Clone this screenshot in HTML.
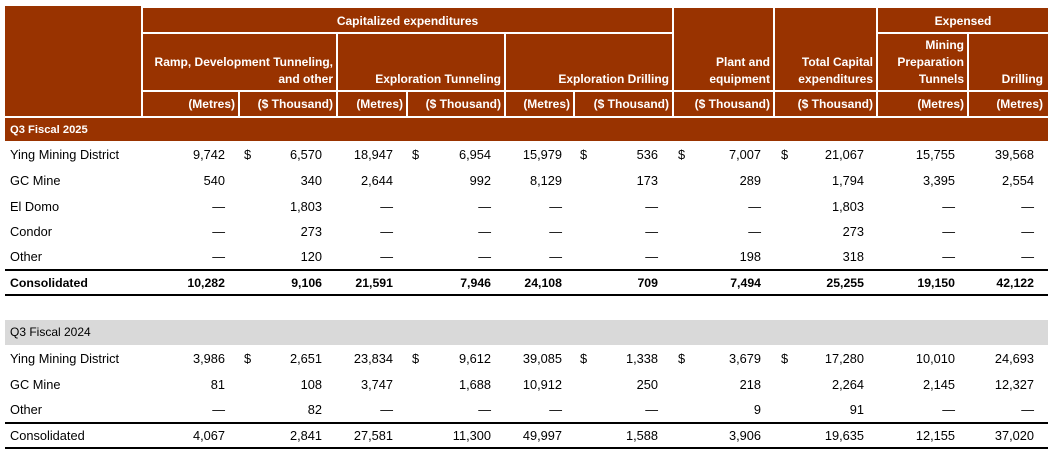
<!DOCTYPE html>
<html>
<head>
<meta charset="utf-8">
<style>
html,body{margin:0;padding:0;background:#fff;}
body{width:1054px;height:453px;position:relative;overflow:hidden;font-family:"Liberation Sans",Arial,sans-serif;color:#000;}
.h{position:absolute;background:#993300;color:#fff;font-weight:bold;font-size:12px;box-sizing:border-box;padding-right:3px;text-align:right;display:flex;flex-direction:column;justify-content:flex-end;line-height:17px;white-space:nowrap;}
.h2{padding-bottom:2px;}
.u{justify-content:center;line-height:24px;}
.t1{justify-content:flex-start;line-height:24px;padding-top:1px;text-align:center;padding-right:0;}
.band{position:absolute;left:5px;width:1043px;box-sizing:border-box;padding-left:5px;}
.row{position:absolute;left:0;width:1054px;height:18px;line-height:18px;font-size:12.8px;}
.row.b{font-weight:bold;font-size:12.3px;}
.lbl{position:absolute;left:10px;}
.n{position:absolute;width:100px;text-align:right;}
.s{position:absolute;}
.a{left:125px}.bb{left:222px}.c{left:293px}.d{left:391px}.e{left:462px}.f{left:558px}.g{left:661px}.hh{left:764px}.i{left:855px}.j{left:934px}
.s1{left:244px}.s2{left:412px}.s3{left:580px}.s4{left:678px}.s5{left:781px}
.rule{position:absolute;left:5px;width:1043px;height:2px;background:#000;}
</style>
</head>
<body>
<!-- header -->
<div class="h" style="left:5px;top:6px;width:136px;height:110px;"></div>
<div class="h t1" style="left:143px;top:8px;width:529px;height:24px;">Capitalized expenditures</div>
<div class="h h2" style="left:674px;top:8px;width:99px;height:82px;">Plant and<br>equipment</div>
<div class="h h2" style="left:775px;top:8px;width:101px;height:82px;">Total Capital<br>expenditures</div>
<div class="h t1" style="left:878px;top:8px;width:170px;height:24px;">Expensed</div>

<div class="h h2" style="left:143px;top:34px;width:193px;height:56px;">Ramp, Development Tunneling,<br>and other</div>
<div class="h h2" style="left:338px;top:34px;width:166px;height:56px;">Exploration Tunneling</div>
<div class="h h2" style="left:506px;top:34px;width:166px;height:56px;">Exploration Drilling</div>
<div class="h h2" style="left:878px;top:34px;width:89px;height:56px;">Mining<br>Preparation<br>Tunnels</div>
<div class="h h2" style="left:969px;top:34px;width:79px;height:56px;padding-right:5px;">Drilling</div>

<div class="h u" style="left:143px;top:92px;width:95px;height:24px;">(Metres)</div>
<div class="h u" style="left:240px;top:92px;width:96px;height:24px;">($ Thousand)</div>
<div class="h u" style="left:338px;top:92px;width:68px;height:24px;">(Metres)</div>
<div class="h u" style="left:408px;top:92px;width:96px;height:24px;">($ Thousand)</div>
<div class="h u" style="left:506px;top:92px;width:67px;height:24px;">(Metres)</div>
<div class="h u" style="left:575px;top:92px;width:97px;height:24px;">($ Thousand)</div>
<div class="h u" style="left:674px;top:92px;width:99px;height:24px;">($ Thousand)</div>
<div class="h u" style="left:775px;top:92px;width:101px;height:24px;">($ Thousand)</div>
<div class="h u" style="left:878px;top:92px;width:89px;height:24px;">(Metres)</div>
<div class="h u" style="left:969px;top:92px;width:79px;height:24px;padding-right:5px;">(Metres)</div>

<div class="band" style="top:118px;height:23px;line-height:24px;background:#993300;color:#fff;font-weight:bold;font-size:11.2px;">Q3 Fiscal 2025</div>

<!-- 2025 rows -->
<div class="row" style="top:146px;"><span class="lbl">Ying Mining District</span><span class="n a">9,742</span><span class="s s1">$</span><span class="n bb">6,570</span><span class="n c">18,947</span><span class="s s2">$</span><span class="n d">6,954</span><span class="n e">15,979</span><span class="s s3">$</span><span class="n f">536</span><span class="s s4">$</span><span class="n g">7,007</span><span class="s s5">$</span><span class="n hh">21,067</span><span class="n i">15,755</span><span class="n j">39,568</span></div>
<div class="row" style="top:172px;"><span class="lbl">GC Mine</span><span class="n a">540</span><span class="n bb">340</span><span class="n c">2,644</span><span class="n d">992</span><span class="n e">8,129</span><span class="n f">173</span><span class="n g">289</span><span class="n hh">1,794</span><span class="n i">3,395</span><span class="n j">2,554</span></div>
<div class="row" style="top:198px;"><span class="lbl">El Domo</span><span class="n a">—</span><span class="n bb">1,803</span><span class="n c">—</span><span class="n d">—</span><span class="n e">—</span><span class="n f">—</span><span class="n g">—</span><span class="n hh">1,803</span><span class="n i">—</span><span class="n j">—</span></div>
<div class="row" style="top:223px;"><span class="lbl">Condor</span><span class="n a">—</span><span class="n bb">273</span><span class="n c">—</span><span class="n d">—</span><span class="n e">—</span><span class="n f">—</span><span class="n g">—</span><span class="n hh">273</span><span class="n i">—</span><span class="n j">—</span></div>
<div class="row" style="top:248px;"><span class="lbl">Other</span><span class="n a">—</span><span class="n bb">120</span><span class="n c">—</span><span class="n d">—</span><span class="n e">—</span><span class="n f">—</span><span class="n g">198</span><span class="n hh">318</span><span class="n i">—</span><span class="n j">—</span></div>
<div class="rule" style="top:269px;"></div>
<div class="row b" style="top:274px;"><span class="lbl">Consolidated</span><span class="n a">10,282</span><span class="n bb">9,106</span><span class="n c">21,591</span><span class="n d">7,946</span><span class="n e">24,108</span><span class="n f">709</span><span class="n g">7,494</span><span class="n hh">25,255</span><span class="n i">19,150</span><span class="n j">42,122</span></div>
<div class="rule" style="top:294px;"></div>

<div class="band" style="top:320px;height:25px;line-height:25px;background:#d9d9d9;color:#000;font-size:12px;">Q3 Fiscal 2024</div>

<!-- 2024 rows -->
<div class="row" style="top:350px;"><span class="lbl">Ying Mining District</span><span class="n a">3,986</span><span class="s s1">$</span><span class="n bb">2,651</span><span class="n c">23,834</span><span class="s s2">$</span><span class="n d">9,612</span><span class="n e">39,085</span><span class="s s3">$</span><span class="n f">1,338</span><span class="s s4">$</span><span class="n g">3,679</span><span class="s s5">$</span><span class="n hh">17,280</span><span class="n i">10,010</span><span class="n j">24,693</span></div>
<div class="row" style="top:376px;"><span class="lbl">GC Mine</span><span class="n a">81</span><span class="n bb">108</span><span class="n c">3,747</span><span class="n d">1,688</span><span class="n e">10,912</span><span class="n f">250</span><span class="n g">218</span><span class="n hh">2,264</span><span class="n i">2,145</span><span class="n j">12,327</span></div>
<div class="row" style="top:401px;"><span class="lbl">Other</span><span class="n a">—</span><span class="n bb">82</span><span class="n c">—</span><span class="n d">—</span><span class="n e">—</span><span class="n f">—</span><span class="n g">9</span><span class="n hh">91</span><span class="n i">—</span><span class="n j">—</span></div>
<div class="rule" style="top:422px;"></div>
<div class="row" style="top:427px;"><span class="lbl">Consolidated</span><span class="n a">4,067</span><span class="n bb">2,841</span><span class="n c">27,581</span><span class="n d">11,300</span><span class="n e">49,997</span><span class="n f">1,588</span><span class="n g">3,906</span><span class="n hh">19,635</span><span class="n i">12,155</span><span class="n j">37,020</span></div>
<div class="rule" style="top:447px;"></div>
</body>
</html>
